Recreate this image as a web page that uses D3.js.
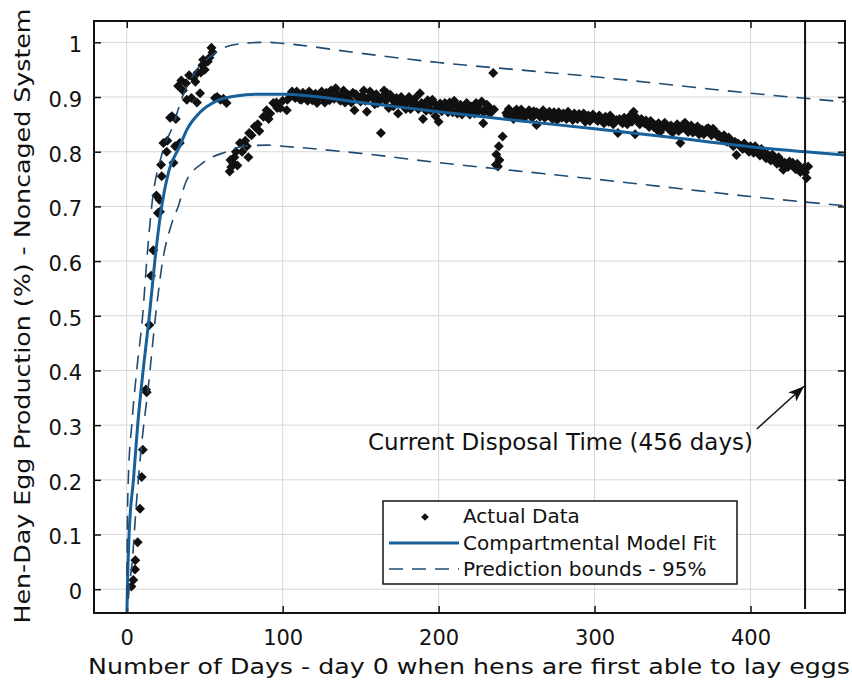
<!DOCTYPE html>
<html>
<head>
<meta charset="utf-8">
<script src="https://cdn.jsdelivr.net/npm/d3@7"></script>
<style>
  body { margin: 0; background: #fff; }
  text { font-family: "DejaVu Sans", sans-serif; fill: #111; }
</style>
</head>
<body>
<svg id="chart" width="852" height="685"></svg>
<script>
const xTicks = [0, 100, 200, 300, 400];
const yTicks = [0, 0.1, 0.2, 0.3, 0.4, 0.5, 0.6, 0.7, 0.8, 0.9, 1];
const yTickLabels = ['0', '0.1', '0.2', '0.3', '0.4', '0.5', '0.6', '0.7', '0.8', '0.9', '1'];
const disposalDay = 435;
const legendLabels = ['Actual Data', 'Compartmental Model Fit', 'Prediction bounds - 95%'];
const annotationText = 'Current Disposal Time (456 days)';
const xTitle = 'Number of Days - day 0 when hens are first able to lay eggs';
const yTitle = 'Hen-Day Egg Production (%) - Noncaged System';

// [day, production]
const fitCurve = [
  [0, -0.06], [0.4, 0], [1.5, 0.1], [4.3, 0.2], [7, 0.3], [10.5, 0.4], [14.5, 0.5],
  [18, 0.6], [22.4, 0.7], [27, 0.765], [34, 0.81], [38.5, 0.84], [47, 0.872],
  [57.7, 0.893], [70, 0.902], [85, 0.905], [100, 0.905], [150, 0.89], [200, 0.873],
  [250, 0.857], [300, 0.842], [350, 0.826], [400, 0.809], [461, 0.794]
];
const upperBound = [
  [0, -0.06], [0.3, 0.1], [1, 0.2], [3.2, 0.3], [6.4, 0.4], [10.2, 0.5], [12.8, 0.6],
  [16, 0.7], [23, 0.8], [30, 0.85], [35, 0.895], [45, 0.95], [55, 0.977], [62, 0.99],
  [75, 0.998], [90, 1.0], [100, 0.998], [150, 0.98], [200, 0.963], [250, 0.95],
  [300, 0.937], [350, 0.922], [400, 0.907], [461, 0.891]
];
const lowerBound = [
  [0, -0.06], [1.5, 0], [3.5, 0.05], [6, 0.15], [9, 0.25], [14, 0.375], [18.5, 0.5],
  [23, 0.6], [29, 0.67], [33, 0.7], [38, 0.745], [49, 0.78], [64, 0.8], [75, 0.81],
  [90, 0.812], [100, 0.81], [150, 0.797], [200, 0.78], [250, 0.765], [300, 0.75],
  [350, 0.734], [400, 0.718], [461, 0.701]
];
const actualData = [
  [3, 0.005], [4.2, 0.017], [5.3, 0.036], [5.5, 0.053], [7, 0.086], [8.5, 0.147], [9.6, 0.205],
  [10.3, 0.255], [12.3, 0.365], [12.8, 0.36], [14.5, 0.483], [15.6, 0.573], [17, 0.62],
  [19, 0.72], [20, 0.688], [21, 0.712], [21.3, 0.69], [22, 0.776], [22.4, 0.755], [23.5, 0.816],
  [25.6, 0.8], [26, 0.82], [27.8, 0.862], [29, 0.865], [30, 0.78], [31, 0.81], [31.5, 0.86],
  [33, 0.92], [34, 0.816], [35, 0.93], [36, 0.912], [38, 0.925], [38.5, 0.895], [40, 0.94],
  [41.5, 0.898], [42.7, 0.935], [44, 0.928], [45, 0.89], [45.5, 0.945], [47, 0.907],
  [47.5, 0.945], [48.5, 0.958], [49, 0.968], [50, 0.95], [52, 0.965], [53, 0.972],
  [54.3, 0.99], [55, 0.982], [56.6, 0.898], [58, 0.9], [60, 0.895], [62, 0.897], [64, 0.889],
  [66, 0.764], [66.5, 0.785], [67, 0.772], [68, 0.78], [69, 0.79], [70, 0.8], [71, 0.775],
  [72.6, 0.816], [74, 0.8], [76, 0.82], [77, 0.81], [78, 0.79], [78.5, 0.834], [80, 0.83],
  [82, 0.846], [84, 0.85], [85, 0.838], [87.6, 0.864], [89.7, 0.876], [91, 0.86], [92, 0.87],
  [94, 0.889], [96, 0.89], [96.5, 0.88], [98.5, 0.88], [100, 0.893], [102.6, 0.876],
  [103, 0.895], [105, 0.905],
  [106, 0.91], [108, 0.898], [110, 0.905], [112, 0.895], [114, 0.902], [116, 0.893],
  [118, 0.905], [120, 0.9], [122, 0.889], [124, 0.903], [126, 0.897], [128, 0.908],
  [130, 0.894], [132, 0.9], [134, 0.916], [136, 0.898], [138, 0.903], [140, 0.89],
  [141, 0.9], [143, 0.895], [145, 0.908], [146, 0.876], [148, 0.9], [150, 0.892],
  [152, 0.912], [154, 0.873], [155, 0.899], [157, 0.905], [159, 0.887], [160, 0.905],
  [162, 0.896], [163, 0.834], [165, 0.912], [167, 0.907], [168, 0.88], [170, 0.897],
  [172, 0.89], [174, 0.87], [176, 0.9], [178, 0.886], [180, 0.895], [182, 0.878],
  [184, 0.892], [186, 0.884], [188, 0.907], [190, 0.86], [191, 0.885], [193, 0.894],
  [195, 0.876], [197, 0.889], [198, 0.865], [200, 0.855], [201, 0.888], [203, 0.878],
  [205, 0.88], [207, 0.89], [209, 0.872], [211, 0.885], [213, 0.877], [215, 0.868],
  [217, 0.884], [219, 0.874], [221, 0.882], [223, 0.87], [224, 0.889], [226, 0.875],
  [227.6, 0.892], [228.6, 0.852], [230, 0.878], [232, 0.882], [233, 0.87], [235, 0.944],
  [235.5, 0.877], [236.7, 0.776], [237, 0.795], [238, 0.773], [238.6, 0.81], [239, 0.785],
  [241, 0.828], [243.4, 0.871], [245, 0.878], [247, 0.865], [249, 0.874], [251, 0.868],
  [253, 0.877], [255, 0.862], [257, 0.872], [259, 0.866], [261, 0.874], [262.8, 0.849],
  [264, 0.868], [266, 0.871], [268, 0.862], [270, 0.869], [272, 0.864], [274, 0.872],
  [276, 0.858], [278, 0.866], [280, 0.87], [282, 0.86], [284, 0.867], [286, 0.858],
  [288, 0.865], [290, 0.869], [292, 0.862], [294, 0.855], [296, 0.866], [298, 0.86],
  [300, 0.864], [302, 0.856], [304, 0.862], [306, 0.852], [308, 0.86], [310, 0.866],
  [312, 0.85], [314, 0.858], [315, 0.834], [317, 0.855], [319, 0.862], [321, 0.85],
  [323, 0.866], [325, 0.873], [326, 0.832], [328, 0.856], [330, 0.86], [332, 0.852],
  [333, 0.857], [335, 0.845], [337, 0.852], [338, 0.845], [340, 0.84], [342, 0.836],
  [344, 0.846], [346, 0.849], [348, 0.84], [350, 0.835], [352, 0.845], [354, 0.838],
  [355, 0.816], [357, 0.85], [359, 0.84], [361, 0.845], [363, 0.835], [365, 0.842],
  [367, 0.832], [369, 0.84], [371, 0.836], [373, 0.843], [375, 0.83], [377, 0.838],
  [379, 0.828], [380, 0.83], [382, 0.824], [384, 0.82], [386, 0.826], [388, 0.815],
  [390, 0.818], [391, 0.794], [393, 0.812], [395, 0.805], [397, 0.81], [399, 0.8],
  [400, 0.81], [402, 0.798], [404, 0.803], [406, 0.793], [408, 0.8], [410, 0.788],
  [411, 0.795], [413, 0.784], [415, 0.79], [417, 0.778], [419, 0.785], [421, 0.767],
  [422, 0.78], [424, 0.772], [426, 0.776], [427, 0.78], [429, 0.768], [431, 0.772],
  [433, 0.765], [435, 0.762], [436, 0.752], [437, 0.773],
  [107, 0.902], [109, 0.91], [111, 0.896], [113, 0.908], [115, 0.899], [117, 0.91],
  [119, 0.894], [121, 0.906], [123, 0.898], [125, 0.91], [127, 0.89], [129, 0.902],
  [131, 0.912], [133, 0.897], [135, 0.905], [137, 0.893], [139, 0.912], [142, 0.904],
  [144, 0.89], [147, 0.905], [149, 0.897], [151, 0.903], [153, 0.893], [156, 0.91],
  [158, 0.897], [161, 0.889], [164, 0.9], [166, 0.893], [169, 0.904], [171, 0.883],
  [173, 0.898], [175, 0.888], [177, 0.893], [179, 0.878], [181, 0.9], [183, 0.887],
  [185, 0.898], [187, 0.878], [189, 0.889], [192, 0.875], [194, 0.887], [196, 0.895],
  [199, 0.88], [202, 0.874], [204, 0.889], [206, 0.872], [208, 0.884], [210, 0.893],
  [212, 0.87], [214, 0.886], [216, 0.878], [218, 0.889], [220, 0.868], [222, 0.878],
  [225, 0.882], [229, 0.872], [231, 0.886], [234, 0.875],
  [244, 0.866], [246, 0.872], [248, 0.86], [250, 0.877], [252, 0.864], [254, 0.872],
  [256, 0.868], [258, 0.876], [260, 0.862], [263, 0.872], [265, 0.864], [267, 0.876],
  [269, 0.865], [271, 0.873], [273, 0.86], [275, 0.868], [277, 0.872], [279, 0.862],
  [281, 0.866], [283, 0.873], [285, 0.862], [287, 0.87], [289, 0.86], [291, 0.866],
  [293, 0.87], [295, 0.862], [297, 0.856], [299, 0.868], [301, 0.86], [303, 0.866],
  [305, 0.858], [307, 0.864], [309, 0.855], [311, 0.862], [313, 0.855], [316, 0.86],
  [318, 0.852], [320, 0.858], [322, 0.86], [324, 0.855], [327, 0.862], [329, 0.85],
  [331, 0.856], [334, 0.85], [336, 0.856], [339, 0.848], [341, 0.852], [343, 0.842],
  [345, 0.853], [347, 0.844], [349, 0.848], [351, 0.84], [353, 0.85], [356, 0.843],
  [358, 0.853], [360, 0.836], [362, 0.848], [364, 0.838], [366, 0.846], [368, 0.84],
  [370, 0.832], [372, 0.842], [374, 0.836], [376, 0.842], [378, 0.833], [381, 0.826],
  [383, 0.83], [385, 0.818], [387, 0.822], [389, 0.81], [392, 0.815], [394, 0.808],
  [396, 0.815], [398, 0.804], [401, 0.804], [403, 0.81], [405, 0.798], [407, 0.805],
  [409, 0.793], [412, 0.79], [414, 0.795], [416, 0.784], [418, 0.79], [420, 0.776],
  [423, 0.775], [425, 0.782], [428, 0.772], [430, 0.778], [432, 0.763], [434, 0.77]
];

const fitColor = '#17609a';
const boundColor = '#1f4b72';

const svg = d3.select('#chart');
const plot = { left: 94, right: 845, top: 21, bottom: 613 };

const x = d3.scaleLinear().domain([-21, 460.6]).range([plot.left, plot.right]);
const y = d3.scaleLinear().domain([-0.0435, 1.039]).range([plot.bottom, plot.top]);

const defs = svg.append('defs');
defs.append('clipPath').attr('id', 'clip')
  .append('rect')
  .attr('x', plot.left).attr('y', plot.top)
  .attr('width', plot.right - plot.left).attr('height', plot.bottom - plot.top);
defs.append('marker')
  .attr('id', 'arrow')
  .attr('viewBox', '0 0 16 12')
  .attr('refX', 16).attr('refY', 6)
  .attr('markerWidth', 16).attr('markerHeight', 12)
  .attr('markerUnits', 'userSpaceOnUse')
  .attr('orient', 'auto')
  .append('path')
  .attr('d', 'M0,0 L16,6 L0,12 L4,6 Z')
  .attr('fill', '#111');

// grid
const grid = svg.append('g').attr('stroke', '#d8d8d8').attr('stroke-width', 1);
grid.selectAll('.vgrid').data(xTicks).enter().append('line')
  .attr('x1', d => x(d)).attr('x2', d => x(d))
  .attr('y1', plot.top).attr('y2', plot.bottom);
grid.selectAll('.hgrid').data(yTicks).enter().append('line')
  .attr('x1', plot.left).attr('x2', plot.right)
  .attr('y1', d => y(d)).attr('y2', d => y(d));

// axes with inward ticks
const tickFont = g => g.selectAll('text').style('font-size', '21px').attr('fill', '#111');
const plainAxis = g => {
  g.select('.domain').remove();
  g.selectAll('line').attr('stroke', '#111').attr('stroke-width', 1.5);
};

svg.append('g')
  .attr('transform', `translate(0,${plot.bottom})`)
  .call(d3.axisBottom(x).tickValues(xTicks).tickSize(-7).tickPadding(17))
  .call(plainAxis).call(tickFont);

svg.append('g')
  .attr('transform', `translate(${plot.left},0)`)
  .call(d3.axisLeft(y).tickValues(yTicks).tickFormat((d, i) => yTickLabels[i]).tickSize(-7).tickPadding(12))
  .call(plainAxis).call(tickFont)
  .selectAll('text').attr('dy', '0.45em');

svg.append('g')
  .attr('transform', `translate(0,${plot.top})`)
  .call(d3.axisTop(x).tickValues(xTicks).tickSize(-7).tickFormat(''))
  .call(plainAxis);

svg.append('g')
  .attr('transform', `translate(${plot.right},0)`)
  .call(d3.axisRight(y).tickValues(yTicks).tickSize(-7).tickFormat(''))
  .call(plainAxis);

// data
const layer = svg.append('g').attr('clip-path', 'url(#clip)');
const diamond = d3.symbol(d3.symbolSquare, 50);

layer.append('g')
  .selectAll('path')
  .data(actualData)
  .enter()
  .append('path')
  .attr('d', diamond)
  .attr('transform', d => `translate(${x(d[0])},${y(d[1])}) rotate(45)`)
  .attr('fill', '#111');

const line = d3.line()
  .x(d => x(d[0]))
  .y(d => y(d[1]))
  .curve(d3.curveMonotoneX);

layer.append('path')
  .datum(fitCurve)
  .attr('d', line)
  .attr('fill', 'none')
  .attr('stroke', fitColor)
  .attr('stroke-width', 3);

[upperBound, lowerBound].forEach(b => {
  layer.append('path')
    .datum(b)
    .attr('d', line)
    .attr('fill', 'none')
    .attr('stroke', boundColor)
    .attr('stroke-width', 1.6)
    .attr('stroke-dasharray', '14,9');
});

// disposal line
svg.append('line')
  .attr('x1', x(disposalDay)).attr('x2', x(disposalDay))
  .attr('y1', plot.top).attr('y2', y(-0.036))
  .attr('stroke', '#111').attr('stroke-width', 2);

// frame
svg.append('rect')
  .attr('x', plot.left).attr('y', plot.top)
  .attr('width', plot.right - plot.left).attr('height', plot.bottom - plot.top)
  .attr('fill', 'none').attr('stroke', '#111').attr('stroke-width', 2);

// annotation
svg.append('line')
  .attr('x1', x(404)).attr('y1', y(0.293))
  .attr('x2', x(disposalDay) - 1).attr('y2', y(0.371))
  .attr('stroke', '#111').attr('stroke-width', 1.5)
  .attr('marker-end', 'url(#arrow)');

svg.append('text')
  .attr('x', x(154.7)).attr('y', y(0.255))
  .style('font-size', '23px')
  .attr('textLength', 385)
  .attr('lengthAdjust', 'spacingAndGlyphs')
  .text(annotationText);

// legend
const legend = svg.append('g').attr('transform', 'translate(383,501)');
legend.append('rect')
  .attr('width', 354).attr('height', 83)
  .attr('fill', '#fff').attr('stroke', '#111').attr('stroke-width', 1.5);
legend.append('path')
  .attr('d', d3.symbol(d3.symbolSquare, 30))
  .attr('transform', 'translate(42,16) rotate(45)')
  .attr('fill', '#111');
legend.append('line')
  .attr('x1', 6).attr('x2', 76).attr('y1', 42).attr('y2', 42)
  .attr('stroke', fitColor).attr('stroke-width', 3);
legend.append('line')
  .attr('x1', 6).attr('x2', 76).attr('y1', 68).attr('y2', 68)
  .attr('stroke', boundColor).attr('stroke-width', 1.6)
  .attr('stroke-dasharray', '14,9');
legend.selectAll('.lbl')
  .data(legendLabels)
  .enter()
  .append('text')
  .attr('x', 80)
  .attr('y', (d, i) => 22 + i * 26.7)
  .style('font-size', '20px')
  .text(d => d);

// axis titles
svg.append('text')
  .attr('x', 469).attr('y', 674)
  .attr('text-anchor', 'middle')
  .style('font-size', '22px')
  .attr('textLength', 762)
  .attr('lengthAdjust', 'spacingAndGlyphs')
  .text(xTitle);

svg.append('text')
  .attr('transform', 'translate(30,316) rotate(-90)')
  .attr('text-anchor', 'middle')
  .style('font-size', '21px')
  .attr('textLength', 615)
  .attr('lengthAdjust', 'spacingAndGlyphs')
  .text(yTitle);
</script>
</body>
</html>
